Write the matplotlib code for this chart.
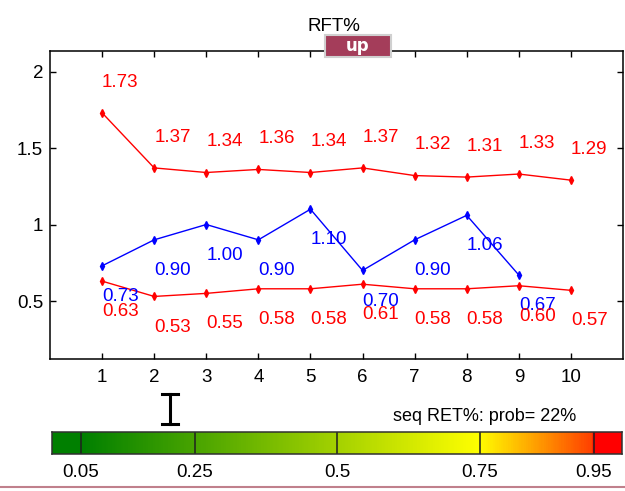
import numpy as np
import matplotlib
matplotlib.use("Agg")
import matplotlib.pyplot as plt
from matplotlib.colors import LinearSegmentedColormap
from matplotlib.patches import Rectangle

plt.rcParams['font.family'] = ['Liberation Sans', 'DejaVu Sans']

# Data
x_upper = [1, 2, 3, 4, 5, 6, 7, 8, 9, 10]
upper_red = [1.73, 1.37, 1.34, 1.36, 1.34, 1.37, 1.32, 1.31, 1.33, 1.29]
x_blue = [1, 2, 3, 4, 5, 6, 7, 8, 9]
blue = [0.73, 0.90, 1.00, 0.90, 1.10, 0.70, 0.90, 1.06, 0.67]
x_lower = [1, 2, 3, 4, 5, 6, 7, 8, 9, 10]
lower_red = [0.63, 0.53, 0.55, 0.58, 0.58, 0.61, 0.58, 0.58, 0.60, 0.57]

x_ticks = [1, 2, 3, 4, 5, 6, 7, 8, 9, 10]
y_ticks = [0.5, 1, 1.5, 2]
y_tick_labels = ["0.5", "1", "1.5", "2"]

cb_ticks = [0.05, 0.25, 0.5, 0.75, 0.95]
cb_tick_labels = ["0.05", "0.25", "0.5", "0.75", "0.95"]
prob = 0.22
marker_pos = 0.207

# Figure
fig = plt.figure(figsize=(6.25, 4.91), dpi=100)
ax = fig.add_axes([0.08, 0.2688, 0.9168, 0.6273])

ax.plot(x_upper, upper_red, color="red", lw=1.0, marker="d", ms=4)
ax.plot(x_blue, blue, color="blue", lw=1.0, marker="d", ms=4)
ax.plot(x_lower, lower_red, color="red", lw=1.0, marker="d", ms=4)

# value labels, offset 0.2 above / below each point
off = 0.2
for xi, yi in zip(x_upper, upper_red):
    ax.text(xi, yi + off, f"{yi:.2f}", color="red", fontsize=13.5, ha="left", va="center")
for xi, yi in zip(x_blue, blue):
    ax.text(xi, yi - off, f"{yi:.2f}", color="blue", fontsize=13.5, ha="left", va="center")
for xi, yi in zip(x_lower, lower_red):
    ax.text(xi, yi - off, f"{yi:.2f}", color="red", fontsize=13.5, ha="left", va="center")

ax.set_xlim(0, 11)
ax.set_ylim(0.121, 2.134)
ax.set_xticks(x_ticks)
ax.set_yticks(y_ticks)
ax.set_yticklabels(y_tick_labels)
ax.tick_params(direction="in", length=4, width=1, top=True, right=True,
               labelsize=13.5, pad=5)
ax.tick_params(axis="x", pad=7)
for s in ax.spines.values():
    s.set_linewidth(1.1)

# Title and button
fig.text(0.534, 0.947, "RFT%", fontsize=13.5, ha="center", va="center")
shadow = Rectangle((0.522, 0.8815), 0.1056, 0.0448, transform=fig.transFigure,
                   facecolor="#707070", edgecolor="none", zorder=4)
fig.patches.append(shadow)
btn = Rectangle((0.52, 0.8839), 0.1056, 0.0448, transform=fig.transFigure,
                facecolor="#a43d5a", edgecolor="#d0d0d0", lw=1.5, zorder=5)
fig.patches.append(btn)
fig.text(0.5728, 0.9063, "up", fontsize=12, color="white", fontweight="bold",
         ha="center", va="center", zorder=6, family="DejaVu Sans")

# Colorbar
cmap = LinearSegmentedColormap.from_list("prob", [
    (0.0, (0, 0.5, 0)), (0.05, (0, 0.5, 0)), (0.75, (1, 1, 0)),
    (0.95, (1, 0.25, 0)), (0.9501, (1, 0, 0)), (1.0, (1, 0, 0))])
cax = fig.add_axes([0.0832, 0.0754, 0.912, 0.0448])
grad = np.linspace(0, 1, 600).reshape(1, -1)
cax.imshow(grad, cmap=cmap, aspect="auto", extent=[0, 1, 0, 1])
for t in cb_ticks:
    cax.axvline(t, color="#202020", lw=1.1)
cax.set_xlim(0, 1)
cax.set_ylim(0, 1)
cax.set_yticks([])
cax.set_xticks(cb_ticks)
cax.set_xticklabels(cb_tick_labels)
cax.tick_params(length=0, labelsize=13.5, pad=7)
for s in cax.spines.values():
    s.set_linewidth(1.1)
    s.set_color("#303030")

# I-beam marker for probability
hw = 0.014
cax.plot([marker_pos, marker_pos], [1.36, 2.73], color="black", lw=2.2, clip_on=False)
cax.plot([marker_pos - hw, marker_pos + hw], [1.36, 1.36], color="black", lw=2.2, clip_on=False)
cax.plot([marker_pos - hw, marker_pos + hw], [2.73, 2.73], color="black", lw=2.2, clip_on=False)

fig.text(0.629, 0.151, f"seq RET%: prob= {prob*100:.0f}%", fontsize=13,
         ha="left", va="center")

# bottom separator line
fig.add_artist(plt.Line2D([0, 1], [0.008, 0.008], transform=fig.transFigure,
                          color="#c0808c", lw=1.5))

fig.savefig("out.png", dpi=100)
